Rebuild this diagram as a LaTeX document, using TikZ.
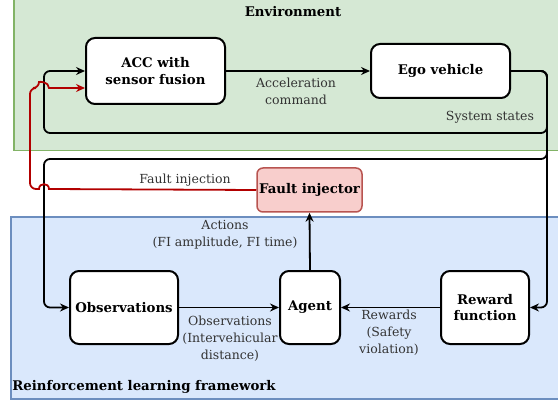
\documentclass[tikz,border=0pt]{standalone}
\usepackage{fontspec}
\setmainfont{DejaVu Serif}
\usetikzlibrary{arrows.meta}
\definecolor{envfill}{HTML}{D5E8D4}
\definecolor{envdraw}{HTML}{82B366}
\definecolor{rlfill}{HTML}{DAE8FC}
\definecolor{rldraw}{HTML}{6C8EBF}
\definecolor{fifill}{HTML}{F8CECC}
\definecolor{fidraw}{HTML}{B85450}
\definecolor{redline}{HTML}{B20000}
\definecolor{lblgray}{HTML}{333333}
\begin{document}
\begin{tikzpicture}[x=1pt,y=-1pt,
  box/.style={draw=black, line width=2pt, fill=white, rounded corners=9pt, align=center,
    font=\bfseries\fontsize{13.3}{16.5}\selectfont, inner sep=0pt},
  fibox/.style={box, draw=fidraw, fill=fifill, line width=1.5pt, rounded corners=6pt},
  lbl/.style={text=lblgray, font=\fontsize{12.5}{17}\selectfont, align=center, inner sep=0pt},
  title/.style={font=\bfseries\fontsize{13.3}{16}\selectfont, inner sep=0pt},
  conn/.style={line width=1.8pt, rounded corners=6pt, -{Stealth[length=9pt,width=8pt,inset=3pt]}},
  redconn/.style={conn, draw=redline}]
\useasboundingbox (0,0) rectangle (558,404);
% containers
\fill[envfill, draw=envdraw, line width=1.3pt] (14,-10) rectangle (575,150.5);
\fill[rlfill, draw=rldraw, line width=1.5pt] (11,217) rectangle (575,399);
\node[title] (envt) at (293,12) {Environment};
\node[title] (rlt) at (144,387) {Reinforcement learning framework};
% nodes
\node[box, minimum width=139pt, minimum height=66pt] (acc) at (155.5,71) {ACC with\\sensor fusion};
\node[box, minimum width=139pt, minimum height=54pt] (ego) at (440.5,71) {Ego vehicle};
\node[fibox, minimum width=105pt, minimum height=44pt] (fi) at (309.5,190) {Fault injector};
\node[box, minimum width=108pt, minimum height=73pt] (obs) at (124,307.5) {Observations};
\node[box, minimum width=60pt, minimum height=73pt] (agent) at (310,307.5) {Agent};
\node[box, minimum width=88pt, minimum height=73pt] (rew) at (485,307.5) {Reward\\function};
% corner coordinates
\coordinate (c1) at (547,133);
\coordinate (c2) at (44,133);
\coordinate (c3) at (547,159);
\coordinate (c4) at (44,159);
\coordinate (c5) at (547,307.5);
\coordinate (h1) at (30,189);
\coordinate (h2) at (30,88);
\coordinate (j1a) at (49,189);
\coordinate (j1b) at (39,189);
\coordinate (j2a) at (39,88);
\coordinate (j2b) at (49,88);
% connectors
\draw[conn] (acc.east) -- (ego.west);
\draw[conn] (ego.east) -| (c1) -- (c2) |- (acc.west);
\draw[conn] (ego.east) -| (c3) -- (c4) |- (obs.west);
\draw[conn] (ego.east) -| (c5) -- (rew.east);
\draw[conn] (obs.east) -- (agent.west);
\draw[conn] (rew.west) -- (agent.east);
\draw[conn] (agent.north) -- (fi.south);
\draw[redconn, rounded corners=0pt] (fi.west) -- (j1a)
  .. controls (49,182.5) and (39,182.5) .. (j1b)
  [rounded corners=6pt] -- (h1) -- (h2) -- (j2a) [sharp corners]
  .. controls (39,81.5) and (49,81.5) .. (j2b) -- (acc.west |- h2);
% labels
\node[lbl] (l1) at (296,91) {Acceleration\\command};
\node[lbl] (l2) at (490,117) {System states};
\node[lbl] (l3) at (185,180) {Fault injection};
\node[lbl] (l4) at (225,235) {Actions\\(FI amplitude, FI time)};
\node[lbl] (l5) at (230,339) {Observations\\(Intervehicular\\distance)};
\node[lbl] (l6) at (389,333) {Rewards\\(Safety\\violation)};
\end{tikzpicture}
\end{document}
